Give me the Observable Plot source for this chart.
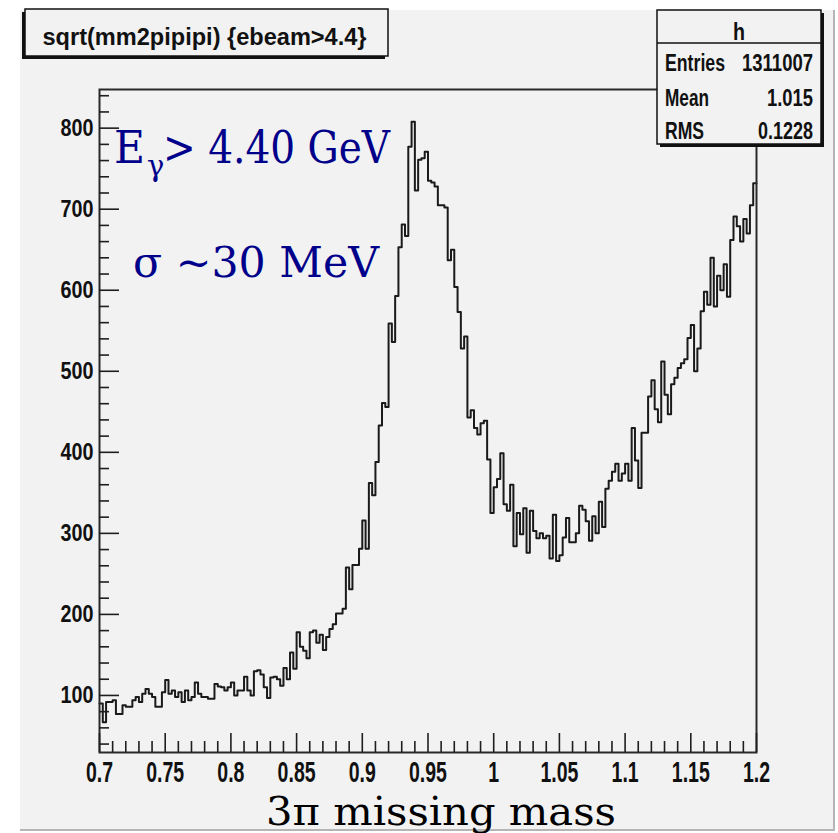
<!DOCTYPE html>
<html><head><meta charset="utf-8">
<script src="https://cdn.jsdelivr.net/npm/d3@7"></script>
<script src="https://cdn.jsdelivr.net/npm/@observablehq/plot@0.6"></script>
<style>
html,body{margin:0;padding:0;background:#fff;overflow:hidden}
#wrap{position:relative;width:838px;height:833px}
#canvas{position:absolute;left:20px;top:10px;width:813px;height:819px;background:#f2f2f2;border-right:2px solid #b5b5b5;border-bottom:2px solid #b5b5b5}
#chart{position:absolute;left:0;top:0}
</style></head><body><div id="wrap"><div id="canvas"></div><div id="chart"></div></div>
<script>
// ---- data ----
const xMin = 0.7, xMax = 1.2;
const counts = [
  90, 67, 92, 92, 94, 77, 77, 88, 86, 86,
  94, 98, 92, 102, 108, 102, 98, 86, 86, 104,
  119, 102, 106, 98, 104, 92, 106, 94, 98, 116,
  102, 98, 98, 96, 96, 114, 111, 110, 106, 110,
  116, 100, 106, 106, 123, 106, 100, 130, 131, 126,
  110, 97, 122, 123, 120, 112, 134, 120, 153, 133,
  178, 160, 155, 146, 178, 180, 165, 175, 156, 172,
  182, 188, 201, 201, 207, 258, 231, 261, 261, 281,
  316, 281, 362, 347, 388, 433, 461, 456, 559, 536,
  593, 653, 681, 667, 777, 808, 723, 761, 763, 771,
  735, 733, 728, 705, 705, 702, 637, 650, 604, 573,
  528, 543, 443, 452, 430, 422, 436, 439, 391, 325,
  357, 367, 399, 336, 328, 360, 284, 325, 299, 331,
  276, 328, 303, 294, 300, 294, 297, 269, 323, 266,
  273, 295, 319, 289, 289, 300, 334, 329, 315, 291,
  321, 300, 339, 308, 355, 365, 376, 386, 365, 374,
  386, 365, 430, 390, 356, 424, 424, 469, 489, 453,
  437, 512, 471, 447, 484, 492, 504, 510, 515, 541,
  557, 500, 528, 574, 598, 582, 640, 580, 618, 600,
  632, 592, 662, 691, 679, 660, 688, 670, 705, 732
];
const xMajorTicks = [0.7, 0.75, 0.8, 0.85, 0.9, 0.95, 1, 1.05, 1.1, 1.15, 1.2];
const yMajorTicks = [100, 200, 300, 400, 500, 600, 700, 800];
const yDomain = [29.6, 847.7];
const titleText = "sqrt(mm2pipipi) {ebeam>4.4}";
const statTitle = "h";
const statLabels = ["Entries", "Mean", "RMS"];
const statValues = ["1311007", "1.015", "0.1228"];
const xLabel = "3\u03c0 missing mass";
const noteE = ["E", "\u03b3", "> 4.40 GeV"];
const noteSigma = "\u03c3 ~30 MeV";

// ---- derived ----
const binW = (xMax - xMin) / counts.length;
const steps = counts.map((c, i) => ({x: xMin + i * binW, y: c}));
steps.push({x: xMax, y: counts[counts.length - 1]});
const xMinor = d3.range(0, 51).map(k => +(xMin + k * 0.01).toFixed(2))
  .filter(v => !xMajorTicks.some(t => Math.abs(t - v) < 1e-9));
const yMinor = d3.range(40, 841, 20).filter(v => v % 100 !== 0);

const sans = "'Liberation Sans', Arial, Helvetica, sans-serif";
const serif = "'DejaVu Serif', 'Liberation Serif', serif";
const ink = "#1e1e1e";

const svg = Plot.plot({
  width: 838, height: 833,
  marginTop: 89, marginBottom: 81, marginLeft: 99, marginRight: 82,
  style: {background: "transparent", overflow: "visible"},
  x: {domain: [xMin, xMax]},
  y: {domain: yDomain},
  marks: [
    Plot.line(steps, {x: "x", y: "y", curve: "step-after", stroke: "#1a1a1a", strokeWidth: 2}),
    Plot.frame({stroke: "#2a2a2a", strokeWidth: 2}),
    Plot.axisY(yMinor, {anchor: "left", tickSize: 10, dx: 10, tickFormat: () => "", label: null, stroke: ink, strokeWidth: 1.6}),
    Plot.axisY(yMajorTicks, {anchor: "left", tickSize: 20, dx: 20, tickFormat: () => "", label: null, stroke: ink, strokeWidth: 1.6}),
    Plot.axisY(yMajorTicks, {anchor: "left", tickSize: 0, tickPadding: 6, label: null,
      fontSize: 23, fontWeight: "bold", fontFamily: sans, fill: "#111"}),
    Plot.axisX(xMinor, {anchor: "bottom", tickSize: 11, dy: -11, tickFormat: () => "", label: null, stroke: ink, strokeWidth: 1.6}),
    Plot.axisX(xMajorTicks, {anchor: "bottom", tickSize: 19, dy: -19, tickFormat: () => "", label: null, stroke: ink, strokeWidth: 1.6}),
    Plot.axisX(xMajorTicks, {anchor: "bottom", tickSize: 0, tickPadding: 8, label: null,
      tickFormat: d => `${+d.toFixed(2)}`,
      fontSize: 30, fontWeight: "bold", fontFamily: sans, fill: "#111"})
  ]
});
document.getElementById("chart").appendChild(svg);

function squeeze(selector, sx, sy) {
  svg.querySelectorAll(selector).forEach(t => {
    let tr = t.getAttribute("transform");
    if (!tr) {
      const x = parseFloat(t.getAttribute("x")) || 0;
      t.removeAttribute("x");
      tr = `translate(${x},0)`;
    }
    t.setAttribute("transform", tr + ` scale(${sx},${sy})`);
  });
}
squeeze('g[aria-label="y-axis tick label"] text', 0.86, 1);
squeeze('g[aria-label="x-axis tick label"] text', 0.65, 1);

const s = d3.select(svg);
const g = s.append("g").attr("text-anchor", "start");

function txt(x, y, str, opts) {
  const t = g.append("text").attr("x", x).attr("y", y).text(str)
    .attr("text-anchor", opts.anchor || "start")
    .attr("font-family", opts.family).attr("font-size", opts.size)
    .attr("font-weight", opts.weight || "normal").attr("fill", opts.fill || "#111");
  if (opts.len) t.attr("textLength", opts.len).attr("lengthAdjust", "spacingAndGlyphs");
  return t;
}

// title box (shadow left/bottom)
g.append("rect").attr("x", 22).attr("y", 12).attr("width", 363).attr("height", 47).attr("fill", "#111");
g.append("rect").attr("x", 25).attr("y", 9).attr("width", 363).attr("height", 47)
  .attr("fill", "#f2f2f2").attr("stroke", "#111").attr("stroke-width", 1.5);
txt(42.5, 45, titleText, {family: sans, size: 23, weight: "bold", len: 324});

// stats box (shadow right/bottom)
g.append("rect").attr("x", 660).attr("y", 13).attr("width", 164).attr("height", 134).attr("fill", "#111");
g.append("rect").attr("x", 657).attr("y", 10).attr("width", 164).attr("height", 134)
  .attr("fill", "#f2f2f2").attr("stroke", "#111").attr("stroke-width", 1.5);
g.append("line").attr("x1", 657).attr("x2", 821).attr("y1", 43).attr("y2", 43)
  .attr("stroke", "#111").attr("stroke-width", 1.5);
txt(739, 40, statTitle, {family: sans, size: 23, weight: "bold", anchor: "middle", len: 12});
const rowY = [70.5, 105.5, 139];
const labW = [60, 44, 39];
const valW = [71, 46, 55];
statLabels.forEach((lab, i) => {
  txt(665, rowY[i], lab, {family: sans, size: 23, weight: "bold", len: labW[i]});
  txt(813, rowY[i], statValues[i], {family: sans, size: 23, weight: "bold", anchor: "end", len: valW[i]});
});

// annotations
const navy = "#00008a";
txt(114, 163, noteE[0], {family: serif, size: 44, fill: navy, len: 31});
txt(147, 176, noteE[1], {family: serif, size: 29, fill: navy});
txt(163, 163, noteE[2], {family: serif, size: 44, fill: navy, len: 227});
txt(133, 277, noteSigma, {family: serif, size: 42, fill: navy, len: 246});

// x-axis title
txt(266, 825, xLabel, {family: serif, size: 39, fill: "#000", len: 350});
</script></body></html>
